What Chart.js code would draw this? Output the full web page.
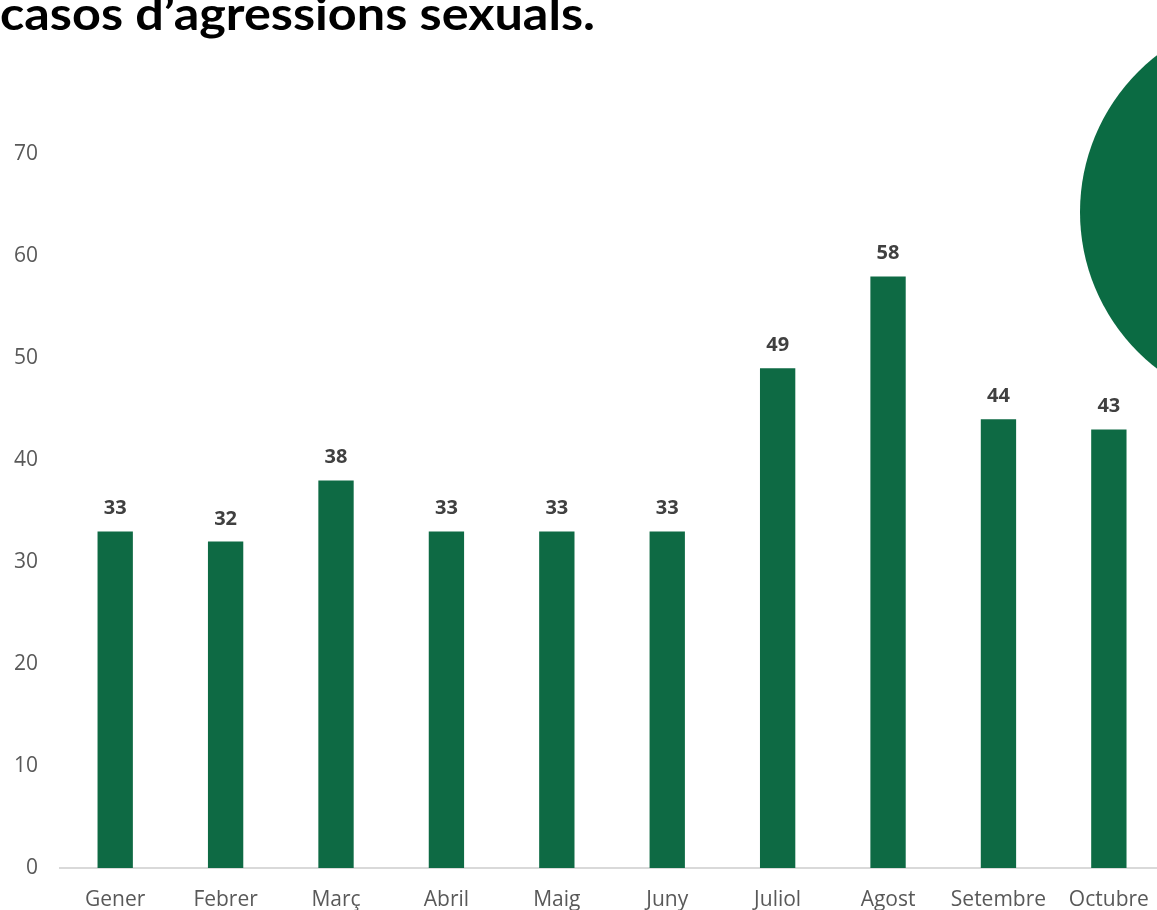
<!DOCTYPE html>
<html>
<head>
<meta charset="utf-8">
<script src="https://cdn.jsdelivr.net/npm/chart.js@4"></script>
<style>
  html, body { margin: 0; padding: 0; background: #fff; overflow: hidden; }
  #wrap { position: relative; width: 1157px; height: 910px; overflow: hidden; }
  #title {
    position: absolute; left: 0; top: -9px; margin: 0;
    font-family: Lato, "Open Sans", sans-serif; font-weight: 700; font-size: 45px;
    line-height: 45px; color: #000; white-space: nowrap; transform-origin: 0 0;
  }
  #blob {
    position: absolute; left: 1080px; top: 14px; width: 396px; height: 396px;
    border-radius: 50%; background: #0b6b43;
  }
  #chart { position: absolute; left: 0; top: 0; }
</style>
</head>
<body>
<div id="wrap">
  <canvas id="chart" width="1168" height="930"></canvas>
  <div id="blob"></div>
  <div id="title">casos d’agressions sexuals.</div>
</div>
<script>
// --- DATA ---
const months = ['Gener', 'Febrer', 'Març', 'Abril', 'Maig', 'Juny', 'Juliol', 'Agost', 'Setembre', 'Octubre'];
const cases = [33, 32, 38, 33, 33, 33, 49, 58, 44, 43];
const yTicks = [0, 10, 20, 30, 40, 50, 60, 70];

document.addEventListener('DOMContentLoaded', () => {
    // squeeze the title to the width it has in the original
    const title = document.getElementById('title');
    const w = title.getBoundingClientRect().width;
    title.style.transform = `scaleX(${595 / w})`;

    // value labels above each bar
    const barLabels = {
        id: 'barLabels',
        afterDatasetsDraw(chart) {
            const c = chart.ctx;
            const meta = chart.getDatasetMeta(0);
            c.save();
            c.font = 'bold 20px "Open Sans", sans-serif';
            c.fillStyle = '#404040';
            c.textAlign = 'center';
            c.textBaseline = 'alphabetic';
            meta.data.forEach((bar, i) => {
                c.fillText(String(cases[i]), bar.x, bar.y - 17);
            });
            c.restore();
        }
    };

    new Chart(document.getElementById('chart'), {
        type: 'bar',
        data: {
            labels: months,
            datasets: [{
                data: cases,
                backgroundColor: '#0e6a44',
                barPercentage: 0.64,
                categoryPercentage: 0.5
            }]
        },
        options: {
            responsive: false,
            animation: false,
            devicePixelRatio: 1,
            layout: { padding: { top: 154, left: 10, right: 3, bottom: 0 } },
            plugins: { legend: { display: false }, tooltip: { enabled: false } },
            scales: {
                x: {
                    afterFit: (axis) => { axis.height = 62; },
                    grid: { display: false, drawTicks: false },
                    border: { display: true, color: '#d9d9d9', width: 2 },
                    ticks: {
                        color: '#595959', padding: 19,
                        maxRotation: 0, minRotation: 0, autoSkip: false,
                        font: { family: '"Open Sans", sans-serif', size: 21 }
                    }
                },
                y: {
                    min: 0, max: 70,
                    afterBuildTicks: (axis) => { axis.ticks = yTicks.map(v => ({ value: v })); },
                    afterFit: (axis) => { axis.width = 50; },
                    grid: { display: false, drawTicks: false },
                    border: { display: false },
                    ticks: {
                        color: '#595959', padding: 22,
                        font: { family: '"Open Sans", sans-serif', size: 21 }
                    }
                }
            }
        },
        plugins: [barLabels]
    });
});
</script>
</body>
</html>
